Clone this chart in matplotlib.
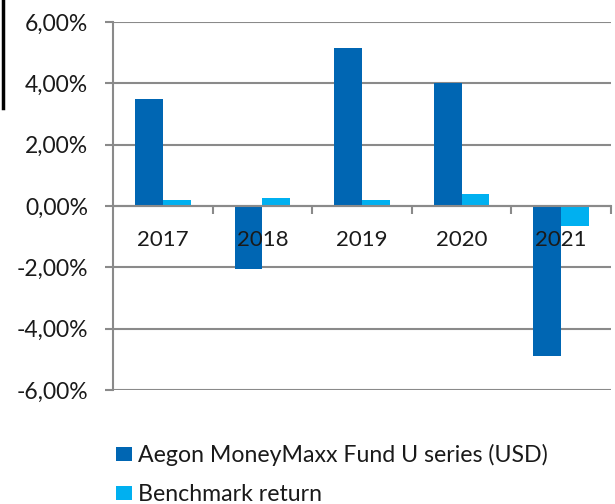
import numpy as np
import matplotlib.pyplot as plt
from matplotlib.lines import Line2D
from matplotlib.ticker import FuncFormatter

years = ['2017', '2018', '2019', '2020', '2021']
fund = [3.49, -2.05, 5.16, 4.02, -4.88]
benchmark = [0.20, 0.26, 0.20, 0.38, -0.65]
series_names = ['Aegon MoneyMaxx Fund U series (USD)', 'Benchmark return']
y_ticks = [-6, -4, -2, 0, 2, 4, 6]

plt.rcParams['font.family'] = ['Lato', 'DejaVu Sans']
grey = '#8a8a8a'
text_col = '#1a1a1a'

fig = plt.figure(figsize=(6.15, 5.04), dpi=100)
ax = fig.add_axes([113 / 615, 1 - 390 / 504, 498 / 615, 368 / 504])

x = np.arange(len(years))
w = 0.28
b1 = ax.bar(x - w / 2, fund, w, color='#0066b3', label=series_names[0], zorder=2)
b2 = ax.bar(x + w / 2, benchmark, w, color='#00b0f0', label=series_names[1], zorder=2)

ax.set_xlim(-0.5, len(years) - 0.5)
ax.set_ylim(-6, 6)
ax.set_yticks(y_ticks)
ax.yaxis.set_major_formatter(FuncFormatter(lambda v, p: f'{v:.2f}%'.replace('.', ',')))
ax.tick_params(axis='y', length=6, width=1.5, color=grey, labelsize=16.5,
               labelcolor=text_col, pad=12)
ax.grid(axis='y', color=grey, linewidth=1.5, zorder=0)
ax.set_axisbelow(True)

# category boundaries as ticks on the zero line
ax.spines['bottom'].set_position(('data', 0))
ax.spines['bottom'].set_color(grey)
ax.spines['bottom'].set_linewidth(1.5)
ax.spines['bottom'].set_zorder(3)
ax.set_xticks(x + 0.5)
ax.set_xticklabels([])
ax.tick_params(axis='x', length=6, width=1.5, color=grey, direction='out')
for xi, yr in zip(x, years):
    ax.text(xi, -1.1, yr, ha='center', va='center', fontsize=16, color=text_col, zorder=4)

ax.spines['left'].set_color(grey)
ax.spines['left'].set_linewidth(1.5)
ax.spines['top'].set_visible(False)
ax.spines['right'].set_visible(False)

ax.legend(handles=[b1, b2], loc='upper left', bbox_to_anchor=(116 / 615, 1 - 444 / 504),
          bbox_transform=fig.transFigure, frameon=False, fontsize=16.7,
          borderaxespad=0, borderpad=0,
          handlelength=0.68, handleheight=0.6, handletextpad=0.25, labelspacing=0.78,
          labelcolor=text_col)

# black edge line at the top left of the source image
fig.add_artist(Line2D([2.5 / 615, 2.5 / 615], [1, 1 - 108 / 504], color='black', linewidth=2.5))

fig.savefig('out.png', dpi=100)
